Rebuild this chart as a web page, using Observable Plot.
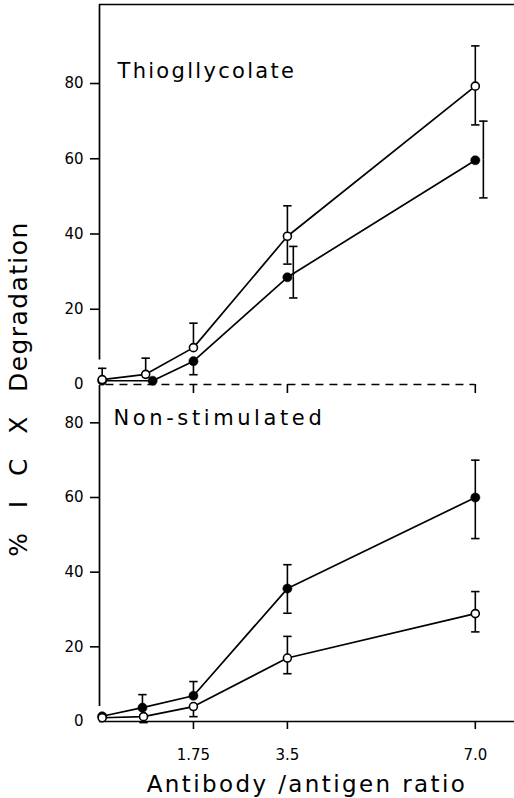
<!DOCTYPE html>
<html>
<head>
<meta charset="utf-8">
<script src="https://cdn.jsdelivr.net/npm/d3@7"></script>
<script src="https://cdn.jsdelivr.net/npm/@observablehq/plot@0.6"></script>
<style>
  html, body { margin: 0; padding: 0; background: white; }
  #wrap { position: relative; width: 514px; height: 798px; overflow: hidden; font-family: "DejaVu Sans", sans-serif; }
  #wrap svg { position: absolute; left: 0; overflow: visible; }
  #ytitle { position: absolute; left: 18px; top: 389px; transform: translate(-50%, -50%) rotate(-90deg);
            white-space: pre; font-size: 25px; letter-spacing: 1.4px; word-spacing: 14px; color: black; }
</style>
</head>
<body>
<div id="wrap"><div id="ytitle">% I C X Degradation</div></div>
<script>
// ---- data ----
const xTicks = [1.75, 3.5, 7.0];
const xTickLabels = ["1.75", "3.5", "7.0"];
const yTicks = [0, 20, 40, 60, 80];
const panelTitles = ["Thiogllycolate", "Non-stimulated"];
const xTitle = "Antibody /antigen ratio";

// Thioglycolate panel, open circles
const thioOpenX  = [0.05, 0.86, 1.75, 3.5, 7.0];
const thioOpenY  = [1.3, 2.7, 9.8, 39.4, 79.3];
const thioOpenHi = [4.3, 7.0, 16.3, 47.5, 90];
const thioOpenLo = [null, null, null, 32, 69];
const thioOpenEx = [0.05, 0.86, 1.75, 3.5, 7.0];
// Thioglycolate panel, filled circles
const thioFillX  = [0.05, 0.99, 1.75, 3.5, 7.0];
const thioFillY  = [1.0, 1.0, 6.2, 28.5, 59.6];
const thioFillHi = [null, null, null, 36.7, 70];
const thioFillLo = [null, null, 2.6, 23, 49.6];
const thioFillEx = [0.05, 0.99, 1.75, 3.61, 7.15];

// Non-stimulated panel, filled circles
const nsFillX  = [0.05, 0.8, 1.75, 3.5, 7.0];
const nsFillY  = [1.4, 3.7, 6.9, 35.6, 60];
const nsFillHi = [null, 7.2, 10.7, 42, 70];
const nsFillLo = [null, null, null, 29, 49];
const nsFillEx = [0.05, 0.8, 1.75, 3.5, 7.0];
// Non-stimulated panel, open circles
const nsOpenX  = [0.05, 0.82, 1.75, 3.5, 7.0];
const nsOpenY  = [1.0, 1.3, 4.0, 17, 28.9];
const nsOpenHi = [null, null, null, 22.8, 34.8];
const nsOpenLo = [null, -0.3, 1.3, 12.8, 24];
const nsOpenEx = [0.05, 0.82, 1.75, 3.5, 7.0];

const xMax = 7.73;
const topYMax = 101, topAxisStart = 6.5;
const botYMax = 90,  botAxisStart = 4;

// ---- helpers ----
function rows(xs, ys, his, los, exs) {
  return xs.map((x, i) => ({x, y: ys[i], hi: his[i], lo: los[i], ex: exs[i]}));
}
const capSymbol = {
  draw(context, size) {
    const w = Math.sqrt(size / Math.PI);
    context.moveTo(-w, 0);
    context.lineTo(w, 0);
  }
};
function seriesMarks(data, open) {
  const up = data.filter(d => d.hi != null);
  const dn = data.filter(d => d.lo != null);
  return [
    Plot.line(data, {x: "x", y: "y", stroke: "black", strokeWidth: 1.7}),
    Plot.ruleX(up, {x: "ex", y1: "y", y2: "hi", stroke: "black", strokeWidth: 1.6}),
    Plot.ruleX(dn, {x: "ex", y1: "y", y2: "lo", stroke: "black", strokeWidth: 1.6}),
    Plot.dot(up, {x: "ex", y: "hi", symbol: capSymbol, r: 4.2, stroke: "black", strokeWidth: 1.6, fill: "none"}),
    Plot.dot(dn, {x: "ex", y: "lo", symbol: capSymbol, r: 4.2, stroke: "black", strokeWidth: 1.6, fill: "none"}),
    open
      ? Plot.dot(data, {x: "x", y: "y", r: 4, fill: "white", stroke: "black", strokeWidth: 1.6})
      : Plot.dot(data, {x: "x", y: "y", r: 4.6, fill: "black", stroke: "black", strokeWidth: 0.5})
  ];
}
const baseStyle = {fontFamily: "DejaVu Sans", fontSize: "15px", background: "transparent", overflow: "visible", color: "black"};

const thioOpen = rows(thioOpenX, thioOpenY, thioOpenHi, thioOpenLo, thioOpenEx);
const thioFill = rows(thioFillX, thioFillY, thioFillHi, thioFillLo, thioFillEx);
const nsOpen = rows(nsOpenX, nsOpenY, nsOpenHi, nsOpenLo, nsOpenEx);
const nsFill = rows(nsFillX, nsFillY, nsFillHi, nsFillLo, nsFillEx);

// ---- top panel ----
const topPlot = Plot.plot({
  width: 514, height: 400,
  marginTop: 4, marginBottom: 16, marginLeft: 99, marginRight: 0,
  style: baseStyle,
  x: {domain: [0, xMax]},
  y: {domain: [0, topYMax]},
  marks: [
    Plot.ruleY([topYMax], {stroke: "black", strokeWidth: 1.7}),
    Plot.ruleX([0], {y1: topAxisStart, y2: topYMax, stroke: "black", strokeWidth: 1.7}),
    Plot.axisY({ticks: yTicks.filter(t => t > 0), tickSize: 9, text: null, strokeWidth: 1.6, label: null}),
    Plot.axisY({ticks: yTicks, tickSize: 0, tickPadding: 16, label: null, tickFormat: d => String(d)}),
    Plot.ruleY([0], {x1: 0.12, x2: xTicks[xTicks.length - 1], stroke: "black", strokeWidth: 1.6, strokeDasharray: "8,6"}),
    Plot.axisX({ticks: xTicks, tickSize: 9, text: null, strokeWidth: 1.6, label: null}),
    ...seriesMarks(thioFill, false),
    ...seriesMarks(thioOpen, true),
    Plot.text([panelTitles[0]], {frameAnchor: "top-left", dx: 18, dy: 59, lineAnchor: "top", textAnchor: "start", fontSize: 21, fill: "black"})
  ]
});
topPlot.style.top = "0px";

// ---- bottom panel ----
const botPlot = Plot.plot({
  width: 514, height: 428,
  marginTop: 15, marginBottom: 77, marginLeft: 99, marginRight: 0,
  style: baseStyle,
  x: {domain: [0, xMax]},
  y: {domain: [0, botYMax]},
  marks: [
    Plot.ruleX([0], {y1: botAxisStart, y2: botYMax, stroke: "black", strokeWidth: 1.7}),
    Plot.ruleY([0], {stroke: "black", strokeWidth: 1.7}),
    Plot.axisY({ticks: yTicks.filter(t => t > 0), tickSize: 9, text: null, strokeWidth: 1.6, label: null}),
    Plot.axisY({ticks: yTicks, tickSize: 0, tickPadding: 16, label: null, tickFormat: d => String(d)}),
    Plot.axisX({ticks: xTicks, tickSize: 8, tickPadding: 20, strokeWidth: 1.6, label: null,
                tickFormat: d => xTickLabels[xTicks.indexOf(d)]}),
    ...seriesMarks(nsFill, false),
    ...seriesMarks(nsOpen, true),
    Plot.text([panelTitles[1]], {frameAnchor: "top-left", dx: 14, dy: 25, lineAnchor: "top", textAnchor: "start", fontSize: 21, fill: "black"}),
    Plot.text([xTitle], {frameAnchor: "bottom", dy: 70, fontSize: 23, fill: "black"})
  ]
});
botPlot.style.top = "370px";

// letter spacing for the lettering (style only)
const spacing = new Map([[panelTitles[0], "2.3px"], [panelTitles[1], "3.6px"], [xTitle, "2.4px"]]);
for (const svg of [topPlot, botPlot]) {
  d3.select(svg).selectAll("text").each(function() {
    const s = spacing.get(this.textContent);
    if (s) this.setAttribute("letter-spacing", s);
  });
}

const wrap = document.getElementById("wrap");
wrap.appendChild(topPlot);
wrap.appendChild(botPlot);
</script>
</body>
</html>
